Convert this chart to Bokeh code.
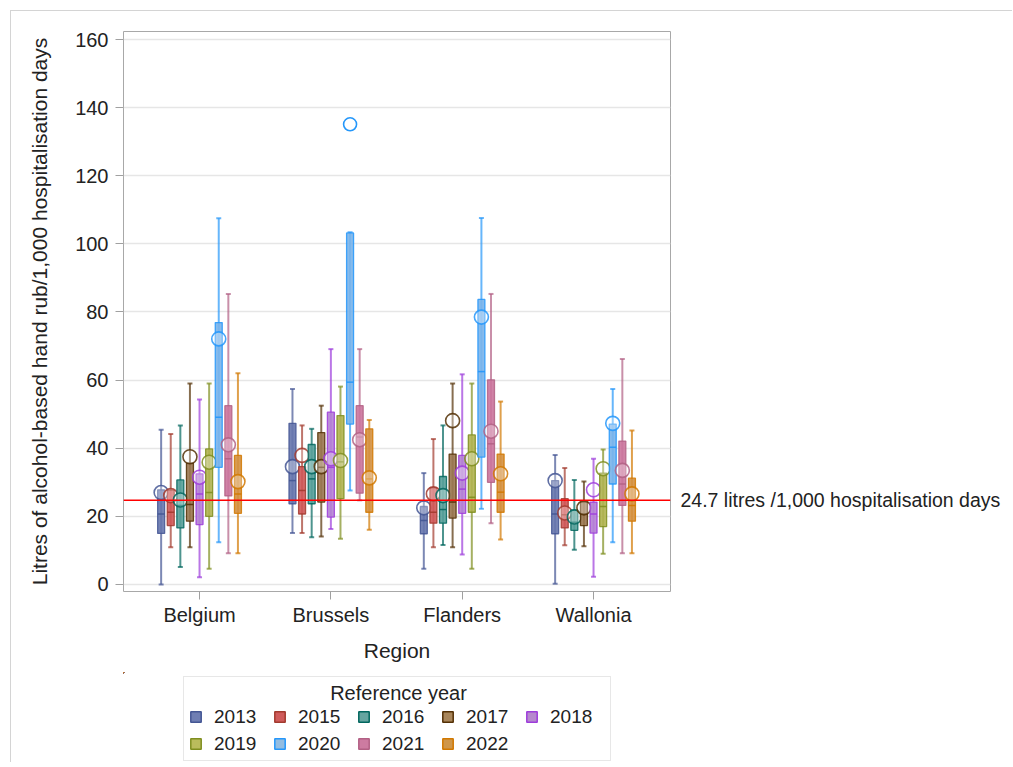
from bokeh.plotting import figure
from bokeh.layouts import column
from bokeh.models import (ColumnDataSource, Span, Label, Legend, LegendItem,
                          FixedTicker, Range1d, LinearAxis)
from bokeh.transform import dodge
from bokeh.embed import file_html
from bokeh.resources import INLINE

# ---------------- data ----------------
regions = ["Belgium", "Brussels", "Flanders", "Wallonia"]
years = ["2013", "2015", "2016", "2017", "2018", "2019", "2020", "2021", "2022"]

# rows = regions (Belgium, Brussels, Flanders, Wallonia); columns = years
whisker_low = [
    [0.0, 10.9, 5.1, 10.9, 2.1, 4.6, 12.4, 9.2, 9.2],
    [15.1, 15.1, 13.9, 14.1, 16.3, 13.4, 27.6, 24.7, 16.1],
    [4.6, 10.9, 11.6, 10.9, 8.8, 4.6, 22.2, 18.0, 13.2],
    [0.2, 11.5, 10.2, 11.2, 2.3, 9.0, 12.4, 9.2, 9.2],
]
q1 = [
    [15.0, 17.3, 16.6, 18.6, 17.6, 20.0, 34.4, 26.0, 20.9],
    [23.7, 20.7, 23.7, 24.2, 19.8, 25.2, 47.1, 26.8, 21.2],
    [14.9, 18.0, 18.0, 19.5, 20.9, 21.2, 37.4, 30.0, 21.2],
    [14.9, 16.6, 15.9, 17.3, 15.1, 17.0, 29.5, 23.2, 18.6],
]
median = [
    [20.7, 21.2, 23.2, 23.5, 26.6, 27.0, 49.1, 36.9, 26.6],
    [30.5, 27.6, 31.0, 34.4, 34.4, 36.0, 59.4, 43.3, 31.0],
    [18.8, 21.2, 22.0, 24.2, 28.0, 25.6, 62.5, 41.3, 27.1],
    [20.7, 20.5, 18.3, 20.7, 20.7, 22.9, 40.3, 29.5, 23.2],
]
q3 = [
    [27.8, 27.6, 30.7, 35.6, 32.5, 39.8, 76.9, 52.5, 37.9],
    [47.3, 34.6, 41.1, 44.6, 50.6, 49.6, 103.2, 52.5, 45.7],
    [22.9, 28.4, 31.7, 38.3, 37.9, 43.9, 83.7, 60.1, 38.3],
    [30.5, 25.2, 21.9, 24.2, 24.2, 32.7, 47.1, 42.1, 31.2],
]
whisker_high = [
    [45.4, 44.2, 46.7, 59.0, 54.3, 59.0, 107.5, 85.3, 62.0],
    [57.4, 46.7, 45.7, 52.5, 69.1, 58.1, 103.4, 69.1, 48.3],
    [32.7, 42.7, 46.7, 59.0, 61.7, 59.0, 107.6, 85.3, 53.7],
    [38.0, 34.2, 30.7, 30.2, 36.9, 39.6, 57.4, 66.2, 45.2],
]
mean = [
    [27.0, 26.1, 24.8, 37.5, 31.5, 35.9, 72.1, 41.0, 30.2],
    [34.6, 37.9, 34.6, 34.6, 36.9, 36.4, float("nan"), 42.5, 31.3],
    [22.5, 26.6, 26.1, 48.1, 32.7, 36.9, 78.5, 45.0, 32.5],
    [30.5, 21.0, 19.8, 22.5, 27.8, 34.0, 47.3, 33.5, 26.6],
]
outlier_region = ["Brussels"]
outlier_year = ["2020"]
outlier_value = [135.1]

reference_value = 24.7
reference_text = "24.7 litres /1,000 hospitalisation days"
legend_title = "Reference year"
y_ticks = [0, 20, 40, 60, 80, 100, 120, 140, 160]

# ---------------- styling ----------------
box_fill = ["#6676ad", "#cf5858", "#58a09a", "#9a7750", "#b482d4",
            "#b0b250", "#7ab4ea", "#cb749c", "#d49040"]
box_line = ["#445694", "#A23A2E", "#01665E", "#543005", "#9D3CDB",
            "#7F8E1F", "#2597FA", "#B26084", "#D17800"]
legend_fill = ["#6F7EB3", "#D05B5B", "#66A5A0", "#A9865B", "#B689CD",
               "#BABC5C", "#94BDE1", "#CD7BA1", "#CF974B"]

FONT = "Liberation Sans"
TXT = "#222222"
W = 1001
ML, MR = 112, 342

p = figure(width=W, height=661,
           x_range=Range1d(-0.579, 3.586), y_range=Range1d(-2.06, 162.35),
           output_backend="svg", toolbar_location=None,
           min_border_left=ML, min_border_right=MR,
           min_border_top=20, min_border_bottom=81)
p.outline_line_color = "#a8a8a8"
p.outline_line_width = 1
p.background_fill_color = "white"
p.border_fill_color = "white"

p.xgrid.visible = False
p.ygrid.grid_line_color = "#e6e6e6"
p.ygrid.grid_line_width = 1.5

p.yaxis.ticker = FixedTicker(ticks=y_ticks)
p.xaxis.ticker = FixedTicker(ticks=list(range(len(regions))))
p.xaxis.major_label_overrides = {i: r for i, r in enumerate(regions)}
p.xaxis.axis_label = "Region"
p.yaxis.axis_label = "Litres of alcohol-based hand rub/1,000 hospitalisation days"
for ax in (p.xaxis[0], p.yaxis[0]):
    ax.axis_line_color = None
    ax.major_tick_line_color = "#a0a0a0"
    ax.major_tick_in = 0
    ax.major_tick_out = 8
    ax.minor_tick_line_color = None
    ax.major_label_text_font = FONT
    ax.major_label_text_font_size = "20px"
    ax.major_label_text_color = TXT
    ax.axis_label_text_font = FONT
    ax.axis_label_text_font_size = "21px"
    ax.axis_label_text_font_style = "normal"
    ax.axis_label_text_color = TXT
p.yaxis.major_label_standoff = 7
p.yaxis.axis_label_standoff = 21
p.xaxis.major_label_standoff = 4
p.xaxis.axis_label_standoff = 10

# right-hand axis carrying the reference-line text
ref_axis = LinearAxis(ticker=FixedTicker(ticks=[reference_value]),
                      major_label_overrides={reference_value: reference_text})
ref_axis.axis_line_color = None
ref_axis.major_tick_line_color = None
ref_axis.minor_tick_line_color = None
ref_axis.major_tick_out = 0
ref_axis.major_tick_in = 0
ref_axis.major_label_standoff = 10
ref_axis.major_label_text_font = FONT
ref_axis.major_label_text_font_size = "19.5px"
ref_axis.major_label_text_color = TXT
p.add_layout(ref_axis, "right")

step = 0.0731
box_w = 0.053
sources = []
for k, yr in enumerate(years):
    off = (k - 4) * step
    src = ColumnDataSource(dict(
        x=list(range(len(regions))),
        lo=[whisker_low[r][k] for r in range(len(regions))],
        q1=[q1[r][k] for r in range(len(regions))],
        med=[median[r][k] for r in range(len(regions))],
        q3=[q3[r][k] for r in range(len(regions))],
        hi=[whisker_high[r][k] for r in range(len(regions))],
        mean=[mean[r][k] for r in range(len(regions))],
    ))
    sources.append(src)
    xd = dodge("x", off, range=p.x_range)
    p.segment(x0=xd, y0="lo", x1=xd, y1="hi", source=src,
              line_color=box_line[k], line_width=2, line_alpha=0.7)
    p.scatter(x=xd, y="lo", source=src, marker="dash", size=5,
              line_color=box_line[k], line_width=2, line_alpha=0.7)
    p.scatter(x=xd, y="hi", source=src, marker="dash", size=5,
              line_color=box_line[k], line_width=2, line_alpha=0.7)
    p.vbar(x=xd, width=box_w, bottom="q1", top="q3", source=src,
           fill_color=box_fill[k], fill_alpha=0.9,
           line_color=box_line[k], line_width=1.3, line_alpha=0.85)
    p.scatter(x=xd, y="med", source=src, marker="dash", size=7,
              line_color=box_line[k], line_width=1.5, line_alpha=0.9)
    p.scatter(x=xd, y="mean", source=src, marker="circle", size=14,
              line_color=box_line[k], line_width=1.6, line_alpha=0.85,
              fill_color="white", fill_alpha=0.3)

# outliers
osrc = ColumnDataSource(dict(
    x=[regions.index(r) for r in outlier_region],
    v=outlier_value,
))
for yr in sorted(set(outlier_year)):
    k = years.index(yr)
    p.scatter(x=dodge("x", (k - 4) * step, range=p.x_range), y="v", source=osrc,
              marker="circle", size=13, line_color=box_line[k], line_width=1.6,
              fill_color="white", fill_alpha=0.0)

# reference line
p.add_layout(Span(location=reference_value, dimension="width",
                  line_color="#ff0000", line_width=1.5))

# ---------------- legend panel (second figure, same frame columns as the chart) ----------
p2 = figure(width=W, height=90, x_range=Range1d(100, 647), y_range=Range1d(-90, 0),
            output_backend="svg", toolbar_location=None,
            min_border_left=ML, min_border_right=MR,
            min_border_top=0, min_border_bottom=0)
p2.xaxis.visible = False
p2.yaxis.visible = False
p2.grid.visible = False
p2.outline_line_color = None
p2.background_fill_color = "white"
p2.border_fill_color = "white"

items = []
for k, yr in enumerate(years):
    # swatch renderer: reuses the year's box data, which lies outside this panel's view
    r = p2.vbar(x="x", width=0.1, bottom="q1", top="q3", source=sources[k],
                fill_color=legend_fill[k], line_color=box_line[k], line_width=1.5)
    items.append(LegendItem(label=yr, renderers=[r]))

legend = Legend(items=items, orientation="horizontal", ncols=5, location=(60, 1))
legend.title = "\u00a0"
legend.title_text_font_size = "20px"
legend.title_standoff = 0
legend.label_text_font = FONT
legend.label_text_font_size = "19px"
legend.label_text_color = TXT
legend.glyph_width = 13
legend.glyph_height = 13
legend.label_standoff = 12
legend.label_width = 55
legend.label_height = 23
legend.spacing = 4
legend.padding = 5
legend.margin = 0
legend.border_line_color = "#d0d0d0"
legend.border_line_width = 1.5
legend.background_fill_alpha = 0.0
p2.add_layout(legend)

p2.add_layout(Label(x=375, y=-20, text=legend_title,
                    text_baseline="middle", text_align="center",
                    text_font=FONT, text_font_size="20px", text_color=TXT))

layout = column(p, p2, spacing=0)
layout.margin = (10, 0, 0, 10)
layout.styles = {"border-top": "1px solid #d4d4d4", "border-left": "1px solid #d4d4d4"}

open("out.html", "w").write(file_html(layout, INLINE))
